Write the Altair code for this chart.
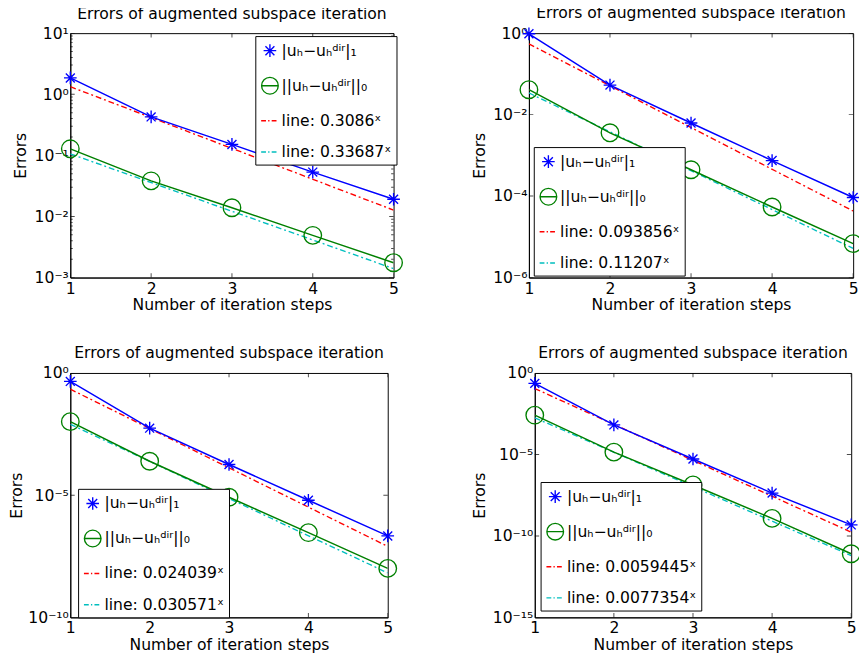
import math
import altair as alt
import pandas as pd

# ---------------- data ----------------
steps = [1, 2, 3, 4, 5]
fit_steps = [1, 5]

p1_h1 = [1.85, 0.426, 0.151, 0.0532, 0.0191]
p1_l2 = [0.128, 0.0383, 0.0139, 0.00491, 0.00175]
p1_fit_h1 = [1.33, 0.0127]
p1_fit_l2 = [0.1057, 0.0014]
p1_rates = ["0.3086", "0.33687"]

p2_h1 = [0.964, 0.0531, 0.00622, 7.45e-4, 9.23e-5]
p2_l2 = [0.0409, 0.00358, 4.44e-4, 5.4e-5, 6.8e-6]
p2_fit_h1 = [0.543, 4.3e-5]
p2_fit_l2 = [0.034, 5.2e-6]
p2_rates = ["0.093856", "0.11207"]

p3_h1 = [0.452, 5.52e-3, 1.80e-4, 6.22e-6, 2.15e-7]
p3_l2 = [0.0102, 2.44e-4, 8.2e-6, 2.92e-7, 1.01e-8]
p3_fit_h1 = [0.217, 8.0e-8]
p3_fit_l2 = [7.97e-3, 6.6e-9]
p3_rates = ["0.024039", "0.030571"]

p4_h1 = [0.23, 6.5e-4, 5.26e-6, 4.26e-8, 4.75e-10]
p4_l2 = [2.57e-3, 1.38e-5, 1.34e-7, 1.19e-9, 8.02e-12]
p4_fit_h1 = [0.111, 1.7e-10]
p4_fit_l2 = [1.78e-3, 6.2e-12]
p4_rates = ["0.0059445", "0.0077354"]

p1_yticks = [1e1, 1e0, 1e-1, 1e-2, 1e-3]
p1_ylabels = ["10¹", "10⁰", "10⁻¹", "10⁻²", "10⁻³"]
p1_minor = [m * 10.0 ** k for k in (-3, -2, -1, 0) for m in (2, 3, 4, 5, 6, 7, 8, 9)]
p2_yticks = [1e0, 1e-2, 1e-4, 1e-6]
p2_ylabels = ["10⁰", "10⁻²", "10⁻⁴", "10⁻⁶"]
p3_yticks = [1e0, 1e-5, 1e-10]
p3_ylabels = ["10⁰", "10⁻⁵", "10⁻¹⁰"]
p4_yticks = [1e0, 1e-5, 1e-10, 1e-15]
p4_ylabels = ["10⁰", "10⁻⁵", "10⁻¹⁰", "10⁻¹⁵"]

title_text = "Errors of augmented subspace iteration"
x_title = "Number of iteration steps"
y_title = "Errors"
name_h1 = "|uₕ−uₕᵈⁱʳ|₁"
name_l2 = "||uₕ−uₕᵈⁱʳ||₀"

# ---------------- styles ----------------
FONT = "DejaVu Sans"
FS = 16
COLORS = ["#0000FF", "#008000", "#FF0000", "#00BFBF"]
STAR = "M-0.65,0L0.65,0M0,-0.65L0,0.65M-0.46,-0.46L0.46,0.46M-0.46,0.46L0.46,-0.46"
STAR_LEG = "M-0.72,0L0.72,0M0,-0.72L0,0.72M-0.51,-0.51L0.51,0.51M-0.51,0.51L0.51,-0.51"
CIRC_LEG = "M-0.95,0A0.95,0.95,0,1,1,0.95,0A0.95,0.95,0,1,1,-0.95,0ZM-0.95,0L0.95,0"
DASH_LEG = "M-1,0L-0.45,0M-0.2,0L-0.05,0M0.2,0L0.75,0M1,0L1,0"


def label_expr(ticks, labels):
    expr = "''"
    for t, l in reversed(list(zip(ticks, labels))):
        e = round(math.log10(t))
        expr = f"abs(log(datum.value)/LN10 - ({e})) < 0.01 ? '{l}' : " + expr
    return expr


def panel(h1, l2, fit_h1, fit_l2, rates, ydom, yticks, ylabels, minor, W, H, lx, ly, yext):
    names = [name_h1, name_l2, f"line: {rates[0]}ˣ", f"line: {rates[1]}ˣ"]
    rows = []
    for s, v in zip(steps, h1):
        rows.append({"x": s, "y": v, "series": names[0]})
    for s, v in zip(steps, l2):
        rows.append({"x": s, "y": v, "series": names[1]})
    for s, v in zip(fit_steps, fit_h1):
        rows.append({"x": s, "y": v, "series": names[2]})
    for s, v in zip(fit_steps, fit_l2):
        rows.append({"x": s, "y": v, "series": names[3]})
    df = pd.DataFrame(rows)

    X = alt.X("x:Q", scale=alt.Scale(domain=[1, 5], nice=False, zero=False),
              axis=alt.Axis(values=steps, format="d", title=x_title, ticks=False, tickSize=0,
                            labelFlush=False, labelPadding=3, titlePadding=1, grid=False))
    Y = alt.Y("y:Q", scale=alt.Scale(type="log", domain=ydom, nice=False),
              axis=alt.Axis(values=yticks, labelExpr=label_expr(yticks, ylabels),
                            title=y_title, ticks=False, tickSize=0, labelPadding=2,
                            minExtent=yext, maxExtent=yext, titlePadding=8, grid=False))

    legend = alt.Legend(
        title=None, orient="none", legendX=lx, legendY=ly,
        fillColor="white", strokeColor="black", padding=5, rowPadding=14,
        labelFont=FONT, labelFontSize=FS, labelColor="black", labelOffset=2,
        symbolSize=324, symbolStrokeWidth=1.4, symbolOpacity=1,
        symbolFillColor="transparent",
    )
    cscale = alt.Scale(domain=names, range=COLORS)

    fit_lines = alt.Chart(df).transform_filter(
        alt.FieldOneOfPredicate(field="series", oneOf=names[2:])
    ).mark_line(strokeWidth=1.4, clip=True, strokeDash=[6, 3, 2, 3]).encode(
        x=X, y=Y, color=alt.Color("series:N", scale=cscale, legend=None), order="x:Q",
    )
    data_lines = alt.Chart(df).transform_filter(
        alt.FieldOneOfPredicate(field="series", oneOf=names[:2])
    ).mark_line(strokeWidth=1.5, clip=True).encode(
        x=X, y=Y, color=alt.Color("series:N", scale=cscale, legend=None), order="x:Q",
    )
    points = alt.Chart(df).transform_filter(
        alt.FieldOneOfPredicate(field="series", oneOf=names[:2])
    ).mark_point(filled=False, strokeWidth=1.4, opacity=1).encode(
        x=X, y=Y, color=alt.Color("series:N", scale=cscale, legend=None),
        shape=alt.Shape("series:N", scale=alt.Scale(domain=names[:2], range=[STAR, "circle"]), legend=None),
        size=alt.Size("series:N", scale=alt.Scale(domain=names[:2], range=[400, 324]), legend=None),
    )
    leg_layer = alt.Chart(df).mark_point(filled=False, opacity=0).encode(
        x=X, y=Y,
        color=alt.Color("series:N", scale=cscale, legend=legend),
        shape=alt.Shape("series:N", scale=alt.Scale(domain=names, range=[STAR_LEG, CIRC_LEG, DASH_LEG, DASH_LEG]),
                        legend=legend),
    )
    xt = pd.DataFrame({"x": steps})
    yt = pd.DataFrame({"y": yticks})
    tick_layers = [
        alt.Chart(xt).mark_tick(color="black", thickness=1, size=9, clip=True).encode(x=X, y=alt.value(0)),
        alt.Chart(xt).mark_tick(color="black", thickness=1, size=9, clip=True).encode(x=X, y=alt.value(H)),
        alt.Chart(yt).mark_tick(color="black", thickness=1, size=9, clip=True).encode(y=Y, x=alt.value(0)),
        alt.Chart(yt).mark_tick(color="black", thickness=1, size=9, clip=True).encode(y=Y, x=alt.value(W)),
    ]
    if minor:
        mt = pd.DataFrame({"y": minor})
        tick_layers += [
            alt.Chart(mt).mark_tick(color="black", thickness=1, size=5, clip=True).encode(y=Y, x=alt.value(0)),
            alt.Chart(mt).mark_tick(color="black", thickness=1, size=5, clip=True).encode(y=Y, x=alt.value(W)),
        ]
    return alt.layer(*tick_layers, fit_lines, data_lines, points, leg_layer).resolve_scale(
        color="independent", shape="independent", size="independent"
    ).properties(
        width=W, height=H,
        title=alt.TitleParams(title_text, font=FONT, fontSize=FS, fontWeight="normal",
                              color="black", offset=-9, anchor="middle", frame="group",
                              baseline="alphabetic"),
    )


indep = dict(color="independent", shape="independent", size="independent")

p1 = panel(p1_h1, p1_l2, p1_fit_h1, p1_fit_l2, p1_rates, [1e-3, 1e1], p1_yticks, p1_ylabels,
           p1_minor, 332, 251, 190, 3, 35)
p2 = panel(p2_h1, p2_l2, p2_fit_h1, p2_fit_l2, p2_rates, [1e-6, 1e0], p2_yticks, p2_ylabels,
           None, 333, 251, 5, 117, 35)
p3 = panel(p3_h1, p3_l2, p3_fit_h1, p3_fit_l2, p3_rates, [1e-10, 1e0], p3_yticks, p3_ylabels,
           None, 326, 251, 8, 119, 39)
p4 = panel(p4_h1, p4_l2, p4_fit_h1, p4_fit_l2, p4_rates, [1e-15, 1e0], p4_yticks, p4_ylabels,
           None, 325, 251, 6, 112, 41)

chart = alt.concat(p1, p2, p3, p4, columns=2, align="none", bounds="full",
                   spacing={"row": 32, "column": 66}).resolve_scale(**indep).properties(
    padding={"left": 0, "top": -13, "right": -7, "bottom": 0},
    background="white",
).configure_view(stroke="black", strokeWidth=1).configure_axis(
    labelFont=FONT, labelFontSize=FS, labelColor="black",
    titleFont=FONT, titleFontSize=FS, titleFontWeight="normal", titleColor="black",
    domainColor="black", domainWidth=1,
)

chart.save("out.html", embed_options={"renderer": "svg", "actions": False})
